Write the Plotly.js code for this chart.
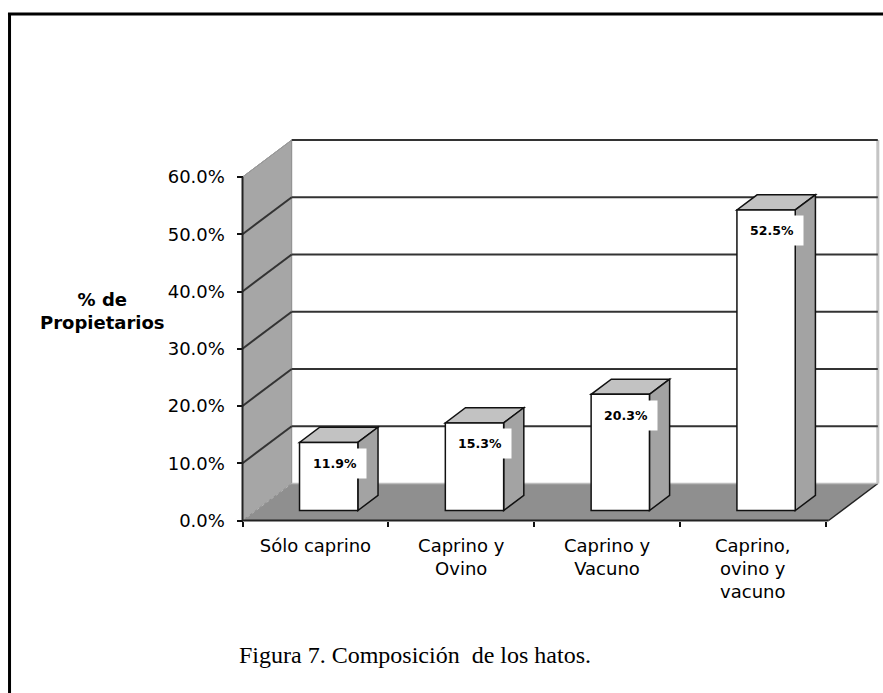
<!DOCTYPE html>
<html>
<head>
<meta charset="utf-8">
<script src="https://cdn.plot.ly/plotly-3.0.1.min.js"></script>
<style>html,body{margin:0;padding:0;background:#fff;}#chart{width:883px;height:693px;}</style>
</head>
<body>
<div id="chart"></div>
<script>
// ---- data ----
const categories = ['Sólo caprino', 'Caprino y<br>Ovino', 'Caprino y<br>Vacuno', 'Caprino,<br>ovino y<br>vacuno'];
const values = [11.9, 15.3, 20.3, 52.5];
const yTicks = [0, 10, 20, 30, 40, 50, 60];
const yTickText = ['0.0%', '10.0%', '20.0%', '30.0%', '40.0%', '50.0%', '60.0%'];
const yTitle = '% de<br>Propietarios';
const caption = 'Figura 7. Composición  de los hatos.';

// ---- 3D geometry (style) ----
const DX = 0.3375, DY = 6.46;     // depth vector in axis units
const D0 = 0.27, D1 = 0.68;       // bar depth span (fraction of depth)
const BW = 0.4;                   // bar width
const XL = -0.5, XR = 3.52;       // floor extent
const YMAX = yTicks[yTicks.length - 1];
const SANS = 'DejaVu Sans, Liberation Sans, Arial, sans-serif';

const idx = values.map((v, i) => i);
const base = D0 * DY;
const bdx = (D1 - D0) * DX, bdy = (D1 - D0) * DY;

const shapes = [];
// back wall
shapes.push({type: 'rect', xref: 'x', yref: 'y', x0: XL + DX, x1: XR + DX, y0: DY, y1: YMAX + DY,
  fillcolor: '#ffffff', line: {width: 0}, layer: 'below'});
// side wall
shapes.push({type: 'path', xref: 'x', yref: 'y', layer: 'below',
  path: `M${XL},0 L${XL},${YMAX} L${XL + DX},${YMAX + DY} L${XL + DX},${DY} Z`,
  fillcolor: '#a6a6a6', line: {color: '#8a8a8a', width: 1}});
// floor
shapes.push({type: 'path', xref: 'x', yref: 'y', layer: 'below',
  path: `M${XL},0 L${XR},0 L${XR + DX},${DY} L${XL + DX},${DY} Z`,
  fillcolor: '#8f8f8f', line: {width: 0}});
// floor / side wall seam
shapes.push({type: 'line', xref: 'x', yref: 'y', layer: 'below', x0: XL, y0: 0, x1: XL + DX, y1: DY,
  line: {color: '#b4b4b4', width: 1, dash: 'dot'}});
// back wall right edge
shapes.push({type: 'line', xref: 'x', yref: 'y', layer: 'below', x0: XR + DX, y0: DY, x1: XR + DX, y1: YMAX + DY,
  line: {color: '#c4c4c4', width: 3}});
// floor right edge
shapes.push({type: 'line', xref: 'x', yref: 'y', layer: 'below', x0: XR, y0: 0, x1: XR + DX, y1: DY,
  line: {color: '#222', width: 1.5}});
// floor back edge
shapes.push({type: 'line', xref: 'x', yref: 'y', layer: 'below', x0: XL + DX, y0: DY, x1: XR + DX, y1: DY,
  line: {color: '#bdbdbd', width: 1.5}});
// gridlines
yTicks.forEach(t => {
  if (t === 0) return;
  shapes.push({type: 'line', xref: 'x', yref: 'y', layer: 'below', x0: XL + DX, y0: t + DY, x1: XR + DX, y1: t + DY,
    line: {color: '#333333', width: 2}});
  shapes.push({type: 'line', xref: 'x', yref: 'y', layer: 'below', x0: XL, y0: t, x1: XL + DX, y1: t + DY,
    line: {color: t === YMAX ? '#9a9a9a' : '#333333', width: t === YMAX ? 1 : 2}});
});
// bar top and side faces
values.forEach((v, i) => {
  const xl = i - BW / 2 + D0 * DX, xr = xl + BW, yt = base + v, yb = base;
  shapes.push({type: 'path', xref: 'x', yref: 'y', layer: 'below',
    path: `M${xl},${yt} L${xr},${yt} L${xr + bdx},${yt + bdy} L${xl + bdx},${yt + bdy} Z`,
    fillcolor: '#c2c2c2', line: {color: '#111', width: 1.5}});
  shapes.push({type: 'path', xref: 'x', yref: 'y', layer: 'below',
    path: `M${xr},${yb} L${xr},${yt} L${xr + bdx},${yt + bdy} L${xr + bdx},${yb + bdy} Z`,
    fillcolor: '#a3a3a3', line: {color: '#111', width: 1.5}});
});
// axis lines
shapes.push({type: 'line', xref: 'x', yref: 'y', layer: 'above', x0: XL, y0: 0, x1: XL, y1: YMAX,
  line: {color: '#222', width: 2}});
shapes.push({type: 'line', xref: 'x', yref: 'y', layer: 'above', x0: XL, y0: 0, x1: XR, y1: 0,
  line: {color: '#222', width: 2}});
// outer frame
shapes.push({type: 'line', xref: 'paper', yref: 'paper', x0: -0.3438, x1: -0.3438, y0: 1.2925, y1: -0.45,
  line: {color: '#000', width: 3}});
shapes.push({type: 'line', xref: 'paper', yref: 'paper', x0: -0.3462, x1: 1.02, y0: 1.29, y1: 1.29,
  line: {color: '#000', width: 3}});

const annotations = values.map((v, i) => ({
  xref: 'x', yref: 'y', x: i + D0 * DX, y: base + v, xshift: 6, yshift: -21,
  text: '<b>' + v.toFixed(1) + '%</b>', showarrow: false, bgcolor: '#ffffff', borderpad: 7, width: 48,
  font: {family: SANS, size: 12.5, color: '#000'}
}));
annotations.push({xref: 'paper', yref: 'paper', x: -0.2015, y: 0.5475, xanchor: 'center', yanchor: 'middle',
  text: '<b>' + yTitle + '</b>', showarrow: false, font: {family: SANS, size: 18, color: '#000'}});
annotations.push({xref: 'paper', yref: 'paper', x: 0.28, y: -0.3125, xanchor: 'center', yanchor: 'middle',
  text: caption, showarrow: false, font: {family: 'Liberation Serif, Times New Roman, serif', size: 24, color: '#000'}});

const trace = {
  type: 'bar', x: idx, y: values, base: base, offset: -BW / 2 + D0 * DX, width: BW,
  marker: {color: '#ffffff', line: {color: '#111', width: 1.5}},
  hoverinfo: 'skip', showlegend: false
};

const layout = {
  width: 883, height: 693,
  margin: {l: 233, r: 0, t: 130, b: 163},
  paper_bgcolor: '#ffffff', plot_bgcolor: 'rgba(0,0,0,0)',
  showlegend: false,
  xaxis: {
    range: [-0.5652, 3.8930], anchor: 'free', position: 0.02375,
    tickmode: 'array', tickvals: idx, ticktext: categories, ticks: '',
    showgrid: false, zeroline: false, showline: false, fixedrange: true,
    tickfont: {family: SANS, size: 18, color: '#000'}, ticklabelstandoff: 12,
    minor: {tickmode: 'array', tickvals: [-0.5, 0.5, 1.5, 2.5, 3.5], ticks: 'outside', ticklen: 5, tickwidth: 2, tickcolor: '#111', showgrid: false}
  },
  yaxis: {
    range: [-1.659, 68.21], anchor: 'free', position: 0.01462,
    tickmode: 'array', tickvals: yTicks, ticktext: yTickText,
    ticks: 'outside', ticklen: 6, tickwidth: 2, tickcolor: '#111',
    showgrid: false, zeroline: false, showline: false, fixedrange: true,
    tickfont: {family: SANS, size: 18, color: '#000'}, ticklabelstandoff: 8
  },
  shapes: shapes,
  annotations: annotations
};

Plotly.newPlot('chart', [trace], layout, {staticPlot: true, displayModeBar: false});
</script>
</body>
</html>
